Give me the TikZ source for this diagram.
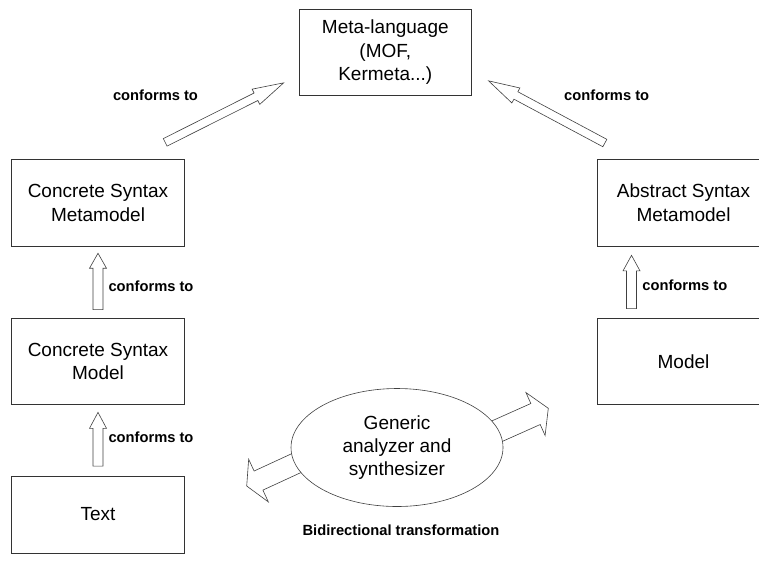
\documentclass[tikz,border=0pt]{standalone}
\usepackage{fontspec}
\setmainfont{Liberation Sans}
\usetikzlibrary{calc,shapes.geometric}

% hollow block arrow: tail, tip, shaft half-width, head half-width, head length
\newcommand\hollowarrow[5]{%
  \coordinate (hbase) at ($(#2)!#5!(#1)$);
  \draw[blockarrow]
    ($(#1)!#3!90:(#2)$) -- ($(hbase)!#3!90:(#2)$) -- ($(hbase)!#4!90:(#2)$) --
    (#2) --
    ($(hbase)!#4!-90:(#2)$) -- ($(hbase)!#3!-90:(#2)$) -- ($(#1)!#3!-90:(#2)$) -- cycle;}

\tikzset{
  box/.style={draw=black!80, line width=0.8pt, fill=white, inner sep=0pt,
    minimum width=172.5pt, minimum height=86.5pt, align=center,
    font=\fontsize{19}{23.5}\selectfont},
  lbl/.style={inner sep=0pt, font=\bfseries\fontsize{14.7}{17}\selectfont},
  blockarrow/.style={draw=black!75, line width=0.6pt, fill=white, line join=miter},
}

\begin{document}
\begin{tikzpicture}[x=1pt, y=-1pt]
\useasboundingbox (0,0) rectangle (759,563);
\clip (0,0) rectangle (759,563);

% boxes
\node[box] (meta) at (385.3,52.2) {Meta-language\\(MOF,\\Kermeta...)};
\node[box] (csmm) at (98,203) {Concrete Syntax\\Metamodel};
\node[box] (asmm) at (683.5,202.7) {Abstract Syntax\\Metamodel};
\node[box] (csm) at (98,361.3) {Concrete Syntax\\Model};
\node[box] (model) at (683.5,361.2) {Model};
\node[box, minimum height=77pt] (text) at (98,514.5) {Text};

% conformance arrows
\coordinate (a1t) at ($(csm.north)+(0,-8)$);
\coordinate (a1h) at ($(csmm.south)+(0,6.6)$);
\hollowarrow{a1t}{a1h}{5pt}{8.5pt}{15pt}

\coordinate (a2t) at ($(text.north)+(0,-9.5)$);
\coordinate (a2h) at ($(csm.south)+(0,7.4)$);
\hollowarrow{a2t}{a2h}{5pt}{8.5pt}{16pt}

\coordinate (a3t) at ($(model.north)+(-52,-9)$);
\coordinate (a3h) at ($(asmm.south)+(-52,9)$);
\hollowarrow{a3t}{a3h}{5pt}{8.5pt}{15.5pt}

\coordinate (a4t) at ($(csmm.north east)+(-19.5,-17)$);
\coordinate (a4h) at ($(meta.south west)+(-15,-13)$);
\hollowarrow{a4t}{a4h}{4.2pt}{8.5pt}{31pt}

\coordinate (a5t) at ($(asmm.north west)+(8,-16)$);
\coordinate (a5h) at ($(meta.south east)+(16.6,-15)$);
\hollowarrow{a5t}{a5h}{4.2pt}{8.5pt}{31pt}

% labels
\node[lbl] (l1) at (155.5,95) {conforms to};
\node[lbl] (l2) at (606.7,95) {conforms to};
\node[lbl] (l3) at (151,286) {conforms to};
\node[lbl] (l4) at (151,437) {conforms to};
\node[lbl] (l5) at (684.9,285) {conforms to};

% transformation ellipse with its two outgoing arrows
\coordinate (gc) at (397,447.5);
\coordinate (b1t) at ($(gc)+(95.5,-14.3)$);
\coordinate (b1h) at ($(gc)+(151.3,-39.2)$);
\hollowarrow{b1t}{b1h}{11.5pt}{23.5pt}{14pt}
\coordinate (b2t) at ($(gc)+(-98.7,14.7)$);
\coordinate (b2h) at ($(gc)+(-150.3,38.5)$);
\hollowarrow{b2t}{b2h}{10.5pt}{23.5pt}{13pt}

\node[ellipse, draw=black!75, line width=0.6pt, fill=white, inner sep=0pt,
      minimum width=212pt, minimum height=118pt, align=center,
      font=\fontsize{19}{23}\selectfont] (gen) at (gc)
  {Generic\\analyzer and\\synthesizer};

\node[lbl] (bt) at (401,530) {Bidirectional transformation};
\end{tikzpicture}
\end{document}
